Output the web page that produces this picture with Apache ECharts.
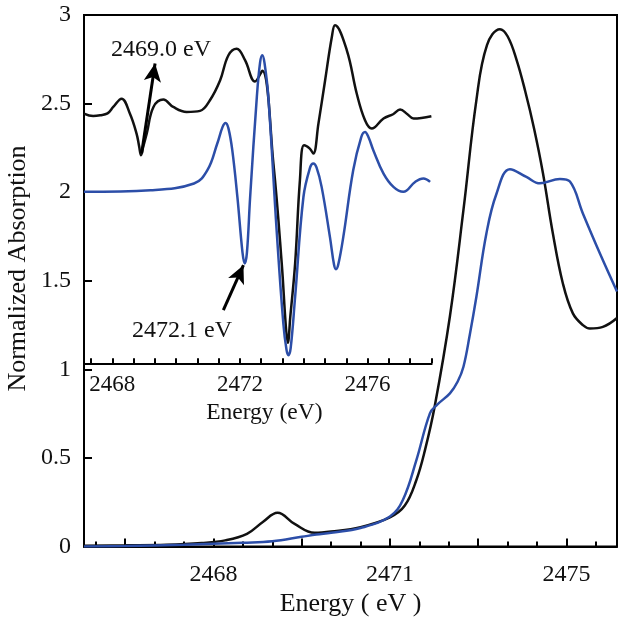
<!DOCTYPE html>
<html><head><meta charset="utf-8">
<script src="https://cdn.jsdelivr.net/npm/echarts@6/dist/echarts.min.js"></script>
<style>html,body{margin:0;padding:0;background:#fff}#c{width:624px;height:625px}</style>
</head><body><div id="c"></div>
<script>
// ---- main spectra (Energy eV, normalized absorption) ----
const mainBlackE = [2465.8,2466.5,2467.2,2467.8,2468.2,2468.57,2468.84,2469.09,2469.38,2469.72,2470.0,2470.5,2471.0,2471.25,2471.45,2471.6,2471.76,2472.02,2472.25,2472.47,2472.65,2472.87,2473.0,2473.15,2473.3,2473.45,2473.6,2473.77,2473.94,2474.11,2474.28,2474.4,2474.62,2474.86];
const mainBlackY = [0.005,0.007,0.01,0.02,0.035,0.072,0.139,0.191,0.128,0.078,0.085,0.11,0.165,0.23,0.376,0.55,0.789,1.30,1.90,2.52,2.83,2.92,2.88,2.75,2.57,2.36,2.11,1.767,1.485,1.316,1.25,1.231,1.24,1.29];
const mainBlueE = [2465.8,2466.5,2467.5,2468.5,2469.0,2469.5,2469.75,2470.0,2470.5,2471.0,2471.22,2471.45,2471.68,2471.8,2472.02,2472.15,2472.25,2472.36,2472.47,2472.64,2472.81,2473.04,2473.32,2473.55,2473.89,2474.06,2474.28,2474.57,2474.86];
const mainBlueY = [0.0,0.003,0.01,0.022,0.03,0.055,0.068,0.078,0.105,0.17,0.263,0.488,0.752,0.80,0.865,0.93,1.015,1.2,1.41,1.767,1.99,2.13,2.086,2.05,2.075,2.06,1.88,1.654,1.44];

// ---- inset spectra (offset, same y scale) ----
const insetBlackE = [2467.11,2467.4,2467.62,2467.85,2468.03,2468.29,2468.55,2468.76,2468.84,2468.9,2468.96,2469.08,2469.29,2469.6,2469.91,2470.33,2470.75,2471.06,2471.38,2471.64,2471.9,2472.16,2472.47,2472.7,2473.05,2473.31,2473.44,2473.5,2473.58,2473.73,2473.88,2474.01,2474.19,2474.3,2474.46,2474.67,2474.88,2474.98,2475.35,2475.66,2475.92,2476.13,2476.5,2476.8,2477.02,2477.25,2477.44,2478.0];
const insetBlackY = [2.444,2.43,2.434,2.445,2.481,2.528,2.444,2.331,2.26,2.209,2.25,2.331,2.481,2.523,2.481,2.453,2.459,2.519,2.632,2.773,2.81,2.745,2.625,2.685,2.16,1.598,1.24,1.15,1.3,1.598,2.068,2.265,2.246,2.218,2.387,2.632,2.876,2.942,2.801,2.557,2.406,2.359,2.416,2.44,2.466,2.44,2.416,2.429];
const insetBlueE = [2467.11,2469.2,2470.56,2470.98,2471.29,2471.46,2471.55,2471.64,2471.76,2471.92,2472.08,2472.15,2472.22,2472.32,2472.53,2472.63,2472.7,2472.77,2472.89,2473.15,2473.36,2473.46,2473.52,2473.59,2473.73,2473.99,2474.2,2474.3,2474.4,2474.56,2474.82,2474.95,2475.01,2475.08,2475.24,2475.55,2475.8,2475.92,2476.03,2476.18,2476.5,2476.81,2477.12,2477.49,2477.75,2477.96];
const insetBlueY = [2.002,2.011,2.049,2.124,2.275,2.37,2.391,2.36,2.237,1.973,1.66,1.598,1.66,1.973,2.538,2.73,2.773,2.73,2.538,1.786,1.259,1.11,1.08,1.12,1.41,1.973,2.14,2.162,2.14,2.03,1.748,1.59,1.565,1.59,1.748,2.124,2.31,2.34,2.31,2.237,2.105,2.03,2.002,2.058,2.077,2.058];

// ---- tick labels ----
const mainXLabelValues = [2468, 2471, 2474];
const mainXLabels = ['2468', '2471', '2475'];
const mainXMajorTicks = [2466.5, 2468, 2469.5, 2471, 2472.5, 2474];
const mainXMinorTicks = [2466,2466.5,2467,2467.5,2468,2468.5,2469,2469.5,2470,2470.5,2471,2471.5,2472,2472.5,2473,2473.5,2474,2474.5];
const insetXLabelValues = [2468, 2472, 2476];
const insetXTicks = [2467.3333,2468,2468.6667,2469.3333,2470,2470.6667,2471.3333,2472,2472.6667,2473.3333,2474,2474.6667,2475.3333,2476,2476.6667,2477.3333,2478];

// ---- annotations ----
const arrow1 = [[2468.92, 2.22], [2469.34, 2.726]];
const arrow2 = [[2471.48, 1.335], [2472.11, 1.588]];

const zip = (a, b) => a.map((v, i) => [v, b[i]]);
const FONT = 'Liberation Serif';
const BLACK = '#111111';
const BLUE = '#2c4ea8';

const chart = echarts.init(document.getElementById('c'), null, {renderer: 'canvas'});
chart.setOption({
  animation: false,
  backgroundColor: '#fff',
  grid: [
    {left: 84, right: 7, top: 15, bottom: 78.4, show: true, borderColor: '#000', borderWidth: 2, backgroundColor: 'transparent', containLabel: false, outerBoundsMode: 'none'},
    {left: 84, width: 347.7, top: 15, height: 348.3, show: false, containLabel: false, outerBoundsMode: 'none'}
  ],
  xAxis: [
    {gridIndex: 0, type: 'value', position: 'bottom', min: 2465.8, max: 2474.86,
     axisLine: {show: true, onZero: false, lineStyle: {color: '#000', width: 2}},
     axisTick: {show: true, inside: true, length: 8, customValues: mainXMajorTicks, lineStyle: {color: '#000', width: 2}},
     axisLabel: {show: true, customValues: mainXLabelValues, margin: 16, color: BLACK, fontFamily: FONT, fontSize: 24,
       formatter: v => { let k = 0; mainXLabelValues.forEach((t, i) => { if (Math.abs(t - v) < Math.abs(mainXLabelValues[k] - v)) k = i; }); return mainXLabels[k]; }},
     splitLine: {show: false},
     name: 'Energy ( eV )', nameLocation: 'middle', nameGap: 44,
     nameTextStyle: {color: BLACK, fontFamily: FONT, fontSize: 26}},
    {gridIndex: 0, type: 'value', position: 'bottom', offset: 0, min: 2465.8, max: 2474.86,
     axisLine: {show: false},
     axisTick: {show: true, inside: true, length: 5, customValues: mainXMinorTicks, lineStyle: {color: '#000', width: 2}},
     axisLabel: {show: false}, splitLine: {show: false}},
    {gridIndex: 1, type: 'value', position: 'bottom', min: 2467.113, max: 2478.01,
     axisLine: {show: true, onZero: false, lineStyle: {color: '#000', width: 2}},
     axisTick: {show: true, inside: true, length: 5, customValues: insetXTicks, lineStyle: {color: '#000', width: 2}},
     axisLabel: {show: true, customValues: insetXLabelValues, margin: 10, color: BLACK, fontFamily: FONT, fontSize: 23,
       formatter: v => String(Math.round(v))},
     splitLine: {show: false},
     name: 'Energy (eV)', nameLocation: 'middle', nameGap: 38,
     nameTextStyle: {color: BLACK, fontFamily: FONT, fontSize: 23.5, padding: [0, 0, 0, 13]}}
  ],
  yAxis: [
    {gridIndex: 0, type: 'value', min: 0, max: 3, interval: 0.5,
     axisLine: {show: true, onZero: false, lineStyle: {color: '#000', width: 2}},
     axisTick: {show: true, inside: true, length: 8, lineStyle: {color: '#000', width: 2}},
     axisLabel: {show: true, margin: 13, color: BLACK, fontFamily: FONT, fontSize: 24},
     splitLine: {show: false}},
    {gridIndex: 1, type: 'value', min: 1.0344, max: 3, show: false, splitLine: {show: false}}
  ],
  series: [
    {name: 'main-black', type: 'line', xAxisIndex: 0, yAxisIndex: 0, showSymbol: false, smooth: 0.4,
     lineStyle: {color: BLACK, width: 2.5}, itemStyle: {color: BLACK}, data: zip(mainBlackE, mainBlackY)},
    {name: 'main-blue', type: 'line', xAxisIndex: 0, yAxisIndex: 0, showSymbol: false, smooth: 0.4,
     lineStyle: {color: BLUE, width: 2.5}, itemStyle: {color: BLUE}, data: zip(mainBlueE, mainBlueY)},
    {name: 'inset-black', type: 'line', xAxisIndex: 2, yAxisIndex: 1, showSymbol: false, smooth: 0.4, clip: false,
     lineStyle: {color: BLACK, width: 2.5}, itemStyle: {color: BLACK}, data: zip(insetBlackE, insetBlackY),
     markLine: {silent: true, symbol: ['none', 'arrow'], symbolSize: [13, 18], label: {show: false},
       lineStyle: {color: '#000', width: 3, type: 'solid'},
       data: [[{coord: arrow1[0]}, {coord: arrow1[1]}]]}},
    {name: 'inset-blue', type: 'line', xAxisIndex: 2, yAxisIndex: 1, showSymbol: false, smooth: 0.4, clip: false,
     lineStyle: {color: BLUE, width: 2.5}, itemStyle: {color: BLUE}, data: zip(insetBlueE, insetBlueY),
     markLine: {silent: true, symbol: ['none', 'arrow'], symbolSize: [13, 18], label: {show: false},
       lineStyle: {color: '#000', width: 3, type: 'solid'},
       data: [[{coord: arrow2[0]}, {coord: arrow2[1]}]]}}
  ],
  graphic: [
    {type: 'text', x: 18, y: 268.5, rotation: Math.PI / 2,
     style: {text: 'Normalized Absorption', fill: BLACK, font: '26px "Liberation Serif"', textAlign: 'center', textVerticalAlign: 'middle', align: 'center', verticalAlign: 'middle'}},
    {type: 'text', x: 161, y: 50,
     style: {text: '2469.0 eV', fill: BLACK, font: '24px "Liberation Serif"', textAlign: 'center', textVerticalAlign: 'middle', align: 'center', verticalAlign: 'middle'}},
    {type: 'text', x: 182, y: 331,
     style: {text: '2472.1 eV', fill: BLACK, font: '24px "Liberation Serif"', textAlign: 'center', textVerticalAlign: 'middle', align: 'center', verticalAlign: 'middle'}}
  ]
});
</script>
</body></html>
